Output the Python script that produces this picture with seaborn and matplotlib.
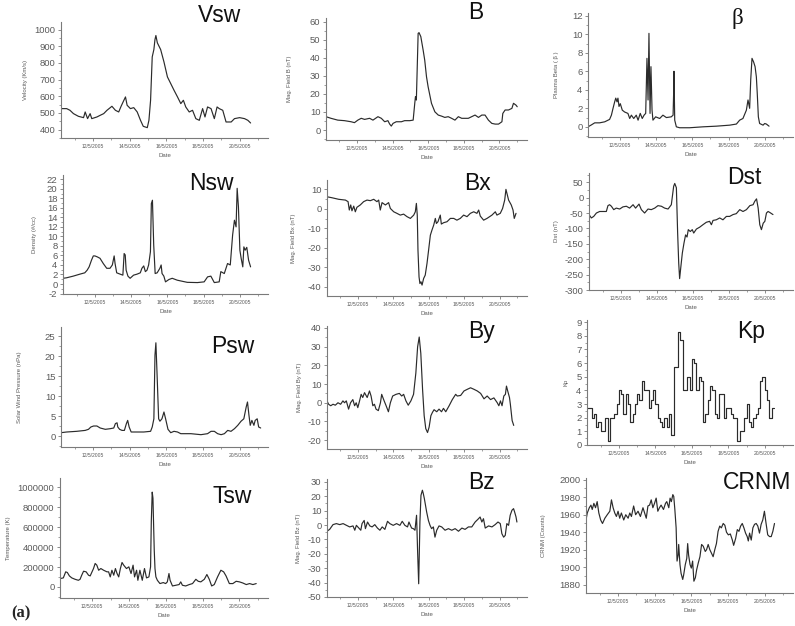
import matplotlib
matplotlib.use("Agg")
import matplotlib.pyplot as plt
from matplotlib.ticker import MultipleLocator, FixedLocator, FixedFormatter, FuncFormatter
import seaborn as sns

# ---------------- data (day of May 2005) ----------------
vsw_day = [10.25, 10.56, 10.74, 10.93, 11.20, 11.48, 11.57, 11.70, 11.84, 11.93, 12.21, 12.39, 12.58, 12.76,
           13.03, 13.22, 13.40, 13.53, 13.64, 13.77, 13.86, 14.04, 14.22, 14.41, 14.59, 14.74, 14.96, 15.05,
           15.14, 15.23, 15.32, 15.38, 15.43, 15.51, 15.69, 15.87, 16.06, 16.24, 16.42, 16.61, 16.79, 16.93,
           17.06, 17.25, 17.43, 17.61, 17.80, 17.98, 18.11, 18.25, 18.44, 18.62, 18.77, 18.89, 19.08, 19.26,
           19.54, 19.72, 20.00, 20.27, 20.45, 20.60]
vsw = [526, 526, 516, 496, 480, 472, 506, 466, 496, 466, 476, 486, 496, 516,
       540, 516, 506, 540, 566, 596, 546, 526, 532, 506, 456, 420, 412, 456,
       576, 836, 880, 940, 964, 920, 880, 806, 716, 676, 636, 596, 556, 576,
       536, 506, 516, 466, 456, 526, 476, 536, 526, 466, 536, 526, 516, 446,
       446, 466, 472, 466, 456, 440]

b_day = [10.25, 10.53, 10.91, 11.29, 11.66, 11.85, 12.04, 12.23, 12.42, 12.70, 12.89, 13.17, 13.36, 13.55,
         13.73, 13.83, 13.92, 14.02, 14.20, 14.49, 14.67, 14.96, 15.15, 15.24, 15.28, 15.33, 15.39, 15.43,
         15.48, 15.58, 15.71, 15.80, 15.90, 15.99, 16.18, 16.37, 16.56, 16.75, 16.93, 17.12, 17.31, 17.50,
         17.69, 17.88, 18.06, 18.25, 18.44, 18.63, 18.82, 19.01, 19.19, 19.38, 19.57, 19.76, 19.95, 20.14,
         20.19, 20.32, 20.51, 20.70, 20.79, 20.93, 21.00]
b_mag = [7.4, 6.5, 5.5, 5.2, 4.6, 4.1, 5.5, 6.5, 5.9, 6.5, 5.5, 7.4, 6.5, 4.6,
         5.2, 3.3, 2.2, 3.7, 4.6, 4.6, 5.2, 5.2, 5.5, 14.8, 18.5, 16.6, 38.7, 53.5,
         53.9, 51.7, 44.3, 38.7, 29.5, 24.0, 14.8, 10.1, 8.3, 7.7, 7.0, 7.4, 6.5, 5.5,
         7.4, 6.5, 6.5, 6.5, 7.4, 8.3, 7.0, 8.3, 8.3, 5.5, 3.7, 3.3, 3.3, 4.6,
         9.2, 11.1, 11.1, 12.0, 14.8, 13.8, 12.9]

beta_day = [10.25, 10.43, 10.62, 10.89, 11.17, 11.44, 11.54, 11.63, 11.72, 11.78, 11.85, 11.90, 11.96, 12.03,
            12.14, 12.27, 12.45, 12.55, 12.64, 12.77, 12.91, 13.01, 13.13, 13.24, 13.34, 13.43, 13.50, 13.56,
            13.61, 13.67, 13.72, 13.78, 13.83, 13.98, 14.20, 14.38, 14.57, 14.84, 14.94, 14.97, 14.99, 15.03,
            15.12, 15.30, 15.85, 16.59, 17.32, 18.06, 18.43, 18.61, 18.79, 18.98, 19.07, 19.16, 19.22, 19.29,
            19.38, 19.46, 19.53, 19.58, 19.64, 19.71, 19.90, 19.99, 20.08, 20.23]
beta = [0.0, 0.2, 0.43, 0.43, 0.54, 0.8, 1.26, 2.0, 2.7, 3.1, 2.7, 3.1, 2.2, 2.5,
        1.8, 1.6, 1.45, 0.9, 1.26, 0.9, 1.26, 0.72, 1.45, 0.9, 1.26, 1.45, 7.4, 2.9,
        10.1, 1.45, 6.5, 1.8, 0.72, 1.08, 0.9, 1.26, 1.0, 1.08, 1.26, 3.6, 6.0, 0.72,
        0.0, -0.1, -0.1, 0.0, 0.07, 0.18, 0.3, 0.72, 0.9, 1.8, 2.9, 2.0, 5.1, 7.4,
        7.0, 6.5, 5.4, 3.6, 1.08, 0.36, 0.18, 0.36, 0.3, 0.07]

nsw_day = [10.25, 10.44, 10.81, 11.18, 11.45, 11.58, 11.69, 11.82, 11.92, 12.01, 12.14, 12.29, 12.47, 12.66,
           12.84, 12.97, 13.07, 13.12, 13.21, 13.40, 13.55, 13.62, 13.68, 13.73, 13.83, 13.95, 14.14, 14.33,
           14.51, 14.60, 14.70, 14.79, 14.88, 14.97, 15.07, 15.12, 15.18, 15.25, 15.33, 15.44, 15.59, 15.66,
           15.71, 15.81, 15.90, 16.09, 16.27, 16.55, 17.10, 17.66, 18.03, 18.22, 18.40, 18.59, 18.86, 18.95,
           19.14, 19.32, 19.47, 19.60, 19.70, 19.79, 19.85, 19.92, 20.00, 20.07, 20.16, 20.22, 20.29, 20.38,
           20.48, 20.59]
nsw = [1.2, 1.3, 1.65, 2.07, 2.35, 2.9, 3.6, 5.0, 5.9, 5.9, 5.7, 5.4, 4.3, 3.3,
       3.3, 4.0, 5.9, 4.3, 2.35, 2.07, 1.86, 6.4, 6.1, 2.9, 1.65, 1.2, 1.86, 2.07,
       2.35, 3.3, 3.8, 2.6, 2.9, 4.0, 6.8, 16.9, 17.6, 8.2, 2.2, 2.35, 3.3, 4.0,
       2.2, 1.65, 0.45, 0.95, 1.2, 0.8, 0.35, 0.3, 0.45, 1.5, 1.65, 0.3, 0.45, 2.6,
       2.2, 4.3, 4.0, 10.3, 13.4, 12.0, 20.1, 16.2, 7.1, 5.4, 3.6, 7.8, 7.1, 7.7,
       5.0, 3.6]

bx_day = [10.25, 10.53, 10.91, 11.29, 11.44, 11.51, 11.59, 11.66, 11.76, 11.85, 11.94, 12.13, 12.32, 12.51,
          12.70, 12.89, 13.07, 13.17, 13.26, 13.36, 13.55, 13.73, 13.83, 14.02, 14.20, 14.39, 14.58, 14.77,
          14.96, 15.15, 15.24, 15.30, 15.35, 15.39, 15.45, 15.50, 15.56, 15.62, 15.71, 15.80, 15.90, 15.99,
          16.09, 16.18, 16.28, 16.37, 16.43, 16.52, 16.65, 16.71, 16.84, 17.03, 17.22, 17.41, 17.59, 17.78,
          17.97, 18.16, 18.35, 18.54, 18.72, 18.82, 18.91, 19.10, 19.29, 19.57, 19.76, 19.85, 20.04, 20.17,
          20.29, 20.36, 20.44, 20.51, 20.66, 20.76, 20.83, 20.93]
bx = [6.2, 5.7, 4.9, 4.5, 3.7, -0.6, 2.0, -1.0, 1.4, -1.5, 0.8, 2.0, 3.7, 4.5,
      4.2, 4.9, 3.7, 4.5, -0.6, 3.2, 2.0, 3.2, 0.2, -1.5, -2.3, -3.2, -2.7, -4.0,
      -4.9, -3.2, -1.5, 2.8, -3.2, -21.2, -34.9, -38.3, -37.4, -39.1, -35.7, -34.0, -28.0, -21.2,
      -13.5, -10.9, -8.3, -4.9, -7.5, -6.6, -3.2, -7.8, -7.1, -6.6, -4.9, -4.9, -5.8, -4.9,
      -3.2, -4.0, -2.3, -1.5, -2.3, -0.6, -3.7, -5.8, -4.9, -3.2, -1.5, -3.2, -2.3, 0.2,
      4.5, 10.0, 7.1, 4.5, 2.0, -0.6, -4.9, -2.3]

dst_day = [10.25, 10.38, 10.51, 10.66, 10.84, 11.03, 11.21, 11.30, 11.39, 11.49, 11.62, 11.76, 11.95, 12.13,
           12.32, 12.50, 12.69, 12.83, 13.02, 13.15, 13.33, 13.52, 13.70, 13.89, 14.07, 14.26, 14.44, 14.63,
           14.81, 14.94, 15.00, 15.09, 15.16, 15.22, 15.27, 15.33, 15.42, 15.51, 15.60, 15.68, 15.75, 15.86,
           15.97, 16.05, 16.20, 16.38, 16.56, 16.75, 16.93, 17.03, 17.12, 17.30, 17.49, 17.67, 17.86, 18.04,
           18.23, 18.41, 18.60, 18.78, 18.97, 19.16, 19.34, 19.43, 19.53, 19.62, 19.71, 19.80, 19.90, 19.99,
           20.08, 20.17, 20.26, 20.44]
dst = [-55, -66, -61, -50, -45, -45, -45, -26, -23, -28, -39, -34, -37, -30,
       -28, -34, -23, -34, -21, -39, -50, -37, -39, -34, -26, -28, -34, -37,
       -23, 37, 46, 32, -115, -213, -263, -229, -180, -148, -121, -128, -104, -110,
       -104, -115, -102, -96, -88, -80, -77, -88, -74, -72, -66, -72, -61, -61,
       -55, -52, -39, -45, -39, -26, -23, -12, -4, -34, -88, -104, -83, -77,
       -50, -45, -48, -55]

psw_day = [10.25, 10.56, 11.11, 11.57, 11.75, 11.88, 12.03, 12.21, 12.39, 12.67, 12.94, 13.13, 13.22, 13.31,
           13.35, 13.45, 13.58, 13.71, 13.82, 13.89, 13.97, 14.08, 14.41, 14.77, 15.14, 15.23, 15.32, 15.38,
           15.43, 15.49, 15.58, 15.65, 15.76, 15.87, 15.96, 16.09, 16.24, 16.42, 16.61, 16.79, 17.34, 17.89,
           18.25, 18.44, 18.62, 18.80, 18.99, 19.17, 19.35, 19.53, 19.72, 19.90, 20.08, 20.23, 20.36, 20.43,
           20.51, 20.58, 20.67, 20.78, 20.85, 20.96, 21.04, 21.15]
psw = [0.83, 1.0, 1.17, 1.4, 1.67, 2.25, 2.5, 2.5, 2.0, 1.67, 1.83, 2.0, 3.1, 3.3,
       2.25, 1.67, 1.4, 1.4, 3.1, 3.9, 2.25, 1.0, 1.0, 1.0, 1.17, 2.25, 4.3, 20.2,
       23.3, 16.0, 4.3, 3.7, 4.3, 6.0, 4.3, 1.67, 0.83, 1.17, 1.0, 0.58, 0.58, 0.33,
       0.58, 1.17, 1.17, 0.58, 0.33, 0.58, 1.4, 1.17, 1.83, 2.67, 3.7, 4.3, 7.25, 8.5,
       5.2, 2.67, 3.9, 2.67, 3.9, 4.3, 2.25, 2.0]

by_day = [10.25, 10.34, 10.46, 10.59, 10.72, 10.87, 11.02, 11.15, 11.24, 11.34, 11.47, 11.58, 11.71, 11.81,
          11.90, 11.99, 12.09, 12.18, 12.27, 12.37, 12.52, 12.65, 12.74, 12.84, 12.93, 13.02, 13.15, 13.27,
          13.34, 13.45, 13.59, 13.72, 13.83, 13.96, 14.15, 14.34, 14.47, 14.58, 14.71, 14.84, 14.99, 15.14,
          15.27, 15.37, 15.46, 15.55, 15.65, 15.74, 15.83, 15.93, 16.02, 16.12, 16.21, 16.30, 16.45, 16.58,
          16.72, 16.83, 16.96, 17.15, 17.33, 17.52, 17.61, 17.80, 17.99, 18.18, 18.36, 18.55, 18.74, 18.93,
          19.12, 19.30, 19.49, 19.68, 19.87, 19.96, 20.05, 20.14, 20.24, 20.33, 20.39, 20.46, 20.56, 20.61,
          20.71, 20.80]
by = [1.0, -0.8, -1.6, -0.8, -1.3, 0.0, -0.8, 1.0, 0.0, 1.0, -3.4, 0.0, 1.7, -1.6,
      0.0, -2.6, 1.0, 4.5, 2.8, 5.4, 2.8, 6.3, 3.6, -1.6, -0.8, -3.4, -4.2, 0.0,
      4.5, 1.7, -1.6, -4.8, 0.0, 3.6, 4.5, 5.0, 3.6, 4.5, 1.0, -1.3, 1.0, 4.5,
      15.9, 29.9, 35.1, 26.4, 7.1, -6.9, -13.8, -15.9, -13.0, -6.9, -5.1, -3.7, -4.8, -3.4,
      -4.8, -3.0, -4.8, -1.6, 1.7, 4.5, 3.6, 3.9, 6.3, 7.2, 8.0, 7.2, 6.3, 5.0,
      2.1, 3.6, 1.7, 2.6, 0.0, -1.6, 1.0, -1.6, 3.6, 4.5, 8.9, 6.3, 2.8, -0.8,
      -9.5, -12.1]

# three-hourly Kp index starting 10 May 06 UT
kp_start = 10.25
kp_step = 0.125
kp = [2.7, 2.7, 2.0, 2.3, 1.3, 1.7, 1.0, 1.0, 2.0, 0.3, 2.0, 2.0, 2.3, 3.0, 4.0, 3.7, 2.3, 3.7, 3.0, 1.7,
      2.3, 3.0, 3.7, 3.3, 4.7, 4.0, 4.0, 2.7, 3.3, 4.0, 3.0, 2.0, 1.7, 1.3, 2.0, 1.3, 2.3, 0.7,
      5.7, 5.7, 8.3, 7.7, 4.0, 4.0, 5.0, 4.0, 6.3, 6.0, 4.0, 5.0, 4.7, 1.7, 2.3, 3.3, 4.3, 4.0,
      2.3, 2.0, 3.7, 3.7, 2.0, 2.7, 2.7, 2.3, 2.0, 2.0, 0.3, 1.0, 1.0, 2.0, 3.0, 1.7, 1.3, 2.0,
      2.3, 2.7, 4.7, 5.0, 4.0, 3.3, 2.0, 2.7]

tsw_day = [10.25, 10.43, 10.56, 10.65, 10.76, 10.89, 11.07, 11.25, 11.34, 11.43, 11.53, 11.67, 11.80, 11.89,
           12.07, 12.16, 12.25, 12.35, 12.47, 12.62, 12.80, 12.89, 12.98, 13.07, 13.17, 13.26, 13.35, 13.44,
           13.53, 13.62, 13.71, 13.86, 13.99, 14.11, 14.22, 14.30, 14.41, 14.48, 14.59, 14.72, 14.84, 14.95,
           15.08, 15.17, 15.21, 15.26, 15.30, 15.34, 15.37, 15.41, 15.46, 15.54, 15.68, 15.86, 15.99, 16.08,
           16.17, 16.23, 16.36, 16.54, 16.72, 16.81, 16.90, 17.08, 17.27, 17.45, 17.63, 17.76, 17.90, 18.09,
           18.23, 18.36, 18.49, 18.63, 18.81, 18.99, 19.14, 19.27, 19.45, 19.64, 19.82, 20.00, 20.18, 20.37,
           20.55, 20.73, 20.91]
tsw = [84000, 91000, 152000, 145000, 111000, 91000, 77000, 67000, 77000, 118000, 158000, 152000, 118000, 111000,
       185000, 236000, 219000, 168000, 185000, 168000, 152000, 152000, 101000, 168000, 118000, 185000, 135000, 101000,
       185000, 246000, 219000, 185000, 202000, 135000, 219000, 101000, 168000, 67000, 168000, 67000, 185000, 91000,
       101000, 202000, 657000, 953000, 892000, 589000, 370000, 185000, 101000, 67000, 34000, 44000, 34000, 51000,
       135000, 67000, 10000, 17000, 24000, 51000, 17000, 10000, 24000, 34000, 77000, 57000, 51000, 77000,
       125000, 77000, 10000, 24000, 101000, 168000, 152000, 111000, 34000, 34000, 57000, 51000, 40000, 24000,
       34000, 24000, 34000]

bz_day = [10.25, 10.40, 10.59, 10.78, 10.97, 11.16, 11.35, 11.53, 11.72, 11.82, 11.91, 12.05, 12.16, 12.23,
          12.35, 12.42, 12.54, 12.67, 12.80, 12.95, 13.10, 13.24, 13.37, 13.52, 13.67, 13.80, 13.99, 14.18,
          14.37, 14.50, 14.65, 14.80, 14.88, 15.03, 15.13, 15.22, 15.31, 15.37, 15.43, 15.47, 15.50, 15.56,
          15.64, 15.69, 15.75, 15.88, 15.98, 16.07, 16.16, 16.26, 16.35, 16.45, 16.58, 16.73, 16.92, 17.11,
          17.30, 17.49, 17.68, 17.87, 18.05, 18.24, 18.43, 18.62, 18.81, 18.90, 19.00, 19.09, 19.19, 19.38,
          19.57, 19.75, 19.91, 20.04, 20.13, 20.23, 20.32, 20.41, 20.51, 20.60, 20.70, 20.79, 20.85, 20.93,
          20.98]
bz = [-4.3, -3.0, 0.3, 1.0, 0.3, 1.0, -0.2, -1.3, -0.6, -3.6, -0.2, -2.1, -3.6, 1.0,
      3.2, -2.5, 2.1, -0.6, -1.3, 0.3, -2.1, -3.6, -1.3, -3.0, 2.6, 1.0, -0.2, 1.0,
      -0.2, 2.6, -0.2, -1.3, 2.1, -2.1, -2.5, -3.6, 6.8, -18.7, -40.8, -16.4, 2.1, 20.7,
      24.2, 21.9, 18.4, 9.1, 3.2, -0.2, -2.5, -1.3, -8.4, -3.6, -0.6, -1.3, -3.6, -2.5,
      -3.6, -2.5, -4.3, -2.1, -3.0, -1.3, -1.3, 2.1, 4.4, 5.6, 2.1, 4.4, -2.1, -0.6,
      -1.3, 0.3, 2.1, 1.0, -6.0, -8.4, -7.2, 1.0, -0.2, 6.8, 10.3, 11.4, 9.1, 5.6,
      2.1]

crnm_day = [10.25, 10.32, 10.43, 10.52, 10.59, 10.68, 10.77, 10.86, 10.95, 11.05, 11.15, 11.28, 11.41, 11.55,
            11.64, 11.73, 11.82, 11.91, 12.00, 12.09, 12.18, 12.31, 12.42, 12.55, 12.64, 12.73, 12.85, 12.96,
            13.09, 13.22, 13.36, 13.45, 13.54, 13.63, 13.72, 13.81, 13.90, 13.99, 14.08, 14.17, 14.26, 14.35,
            14.48, 14.59, 14.66, 14.77, 14.84, 14.91, 14.99, 15.04, 15.10, 15.17, 15.22, 15.28, 15.31, 15.38,
            15.44, 15.53, 15.58, 15.67, 15.75, 15.80, 15.85, 15.93, 16.00, 16.07, 16.14, 16.22, 16.29, 16.38,
            16.47, 16.56, 16.65, 16.76, 16.83, 16.92, 17.01, 17.10, 17.19, 17.28, 17.37, 17.46, 17.55, 17.64,
            17.74, 17.83, 17.92, 18.02, 18.13, 18.24, 18.31, 18.42, 18.51, 18.60, 18.69, 18.78, 18.87, 18.96,
            19.05, 19.11, 19.18, 19.27, 19.36, 19.45, 19.54, 19.63, 19.72, 19.81, 19.90, 19.99, 20.08, 20.17,
            20.27, 20.36, 20.45, 20.54]
crnm = [1954, 1962, 1968, 1971, 1966, 1973, 1968, 1975, 1962, 1954, 1950, 1956, 1960, 1964,
        1977, 1968, 1962, 1958, 1964, 1956, 1962, 1954, 1960, 1956, 1962, 1958, 1970, 1960,
        1964, 1958, 1968, 1962, 1956, 1970, 1971, 1977, 1968, 1973, 1979, 1964, 1968, 1971,
        1966, 1973, 1975, 1968, 1979, 1975, 1983, 1981, 1966, 1945, 1907, 1914, 1926, 1903,
        1893, 1886, 1891, 1903, 1910, 1927, 1914, 1903, 1899, 1907, 1884, 1888, 1897, 1905,
        1912, 1926, 1924, 1918, 1920, 1926, 1920, 1916, 1912, 1920, 1927, 1941, 1947, 1945,
        1950, 1948, 1940, 1937, 1938, 1931, 1925, 1933, 1943, 1941, 1947, 1950, 1945, 1939,
        1935, 1930, 1939, 1931, 1945, 1949, 1950, 1947, 1939, 1949, 1954, 1964, 1950, 1937,
        1935, 1935, 1941, 1950]

date_ticks = [12, 14, 16, 18, 20]
date_labels = ["12/5/2005", "14/5/2005", "16/5/2005", "18/5/2005", "20/5/2005"]

# ---------------- figure ----------------
sns.set_style("ticks")
plt.rcParams["font.family"] = ["Liberation Sans", "DejaVu Sans"]

W, H = 795, 626
fig = plt.figure(figsize=(W / 100, H / 100), dpi=100)
fig.patch.set_facecolor("white")

LINE = "#2b2b2b"
AXC = "#7a7a7a"
TXT = "#5a5a5a"


def px_box(l, t, r, b):
    return [l / W, 1 - b / H, (r - l) / W, (b - t) / H]


kp_day = [kp_start + kp_step * i for i in range(len(kp) + 1)]
kp_ext = kp + [kp[-1]]

plain = FuncFormatter(lambda v, p: f"{v:g}" if abs(v) < 1e5 else f"{int(round(v))}")

panels = [
    # x, y, axes box, ylim, major ticks, minor step, ylabel, label x, title, title anchor
    (vsw_day, vsw, (61, 22, 268, 138), (350, 1045), range(400, 1001, 100), 50,
     "Velocity (Km/s)", -0.16, "Vsw", (220, 22)),
    (b_day, b_mag, (326, 18, 527, 140), (-5.5, 62), range(0, 61, 10), 5,
     "Mag. Field B (nT)", -0.17, "B", (476, 19)),
    (beta_day, beta, (588, 13, 793, 137), (-1.1, 12.3), range(0, 13, 2), 1,
     "Plasma Beta ( \u03b2 )", -0.14, "\u03b2", (737, 24)),
    (nsw_day, nsw, (63, 175, 268, 294), (-2.1, 22.9), range(-2, 23, 2), 1,
     "Density (#/cc)", -0.127, "Nsw", (211, 190)),
    (bx_day, bx, (327, 180, 527, 296), (-44.7, 14.8), range(-40, 11, 10), 5,
     "Mag. Field Bx (nT)", -0.155, "Bx", (478, 190)),
    (dst_day, dst, (589, 173, 793, 290), (-300, 80), range(-300, 51, 50), 25,
     "Dst (nT)", -0.147, "Dst", (744, 184)),
    (psw_day, psw, (61, 327, 268, 447), (-2.75, 27.25), range(0, 26, 5), 2.5,
     "Solar Wind Pressure (nPa)", -0.19, "Psw", (233, 353)),
    (by_day, by, (327, 326, 527, 449), (-24.7, 41), range(-20, 41, 10), 5,
     "Mag. Field By (nT)", -0.125, "By", (481, 338)),
    (kp_day, kp_ext, (587, 320, 793, 445), (0, 9.15), range(0, 10, 1), 0.5,
     "Kp", -0.092, "Kp", (751, 338)),
    (tsw_day, tsw, (60, 478, 268, 598), (-111000, 1095000), range(0, 1000001, 200000), 100000,
     "Temperature (K)", -0.235, "Tsw", (232, 503)),
    (bz_day, bz, (327, 479, 527, 597), (-50, 32), range(-50, 31, 10), 5,
     "Mag. Field Bz (nT)", -0.13, "Bz", (481, 489)),
    (crnm_day, crnm, (586, 478, 793, 593), (1870.5, 2002), range(1880, 2001, 20), 10,
     "CRNM (Counts)", -0.193, "CRNM", (757, 489)),
]

for x, y, bx_px, ylim, major, minor, ylab, labx, title, tpos in panels:
    ax = fig.add_axes(px_box(*bx_px))
    kw = dict(drawstyle="steps-post") if title == "Kp" else {}
    sns.lineplot(x=x, y=y, ax=ax, color=LINE, linewidth=0.85,
                 estimator=None, sort=False, **kw)
    ax.set_xlim(10.25, 21.55)
    ax.set_ylim(*ylim)
    sns.despine(ax=ax)
    for side in ("left", "bottom"):
        ax.spines[side].set_color(AXC)
        ax.spines[side].set_linewidth(0.8)

    ax.xaxis.set_major_locator(FixedLocator(date_ticks))
    ax.xaxis.set_major_formatter(FixedFormatter(date_labels))
    ax.xaxis.set_minor_locator(MultipleLocator(1))
    ax.yaxis.set_major_locator(FixedLocator(list(major)))
    ax.yaxis.set_major_formatter(plain)
    ax.yaxis.set_minor_locator(MultipleLocator(minor))
    ax.tick_params(axis="x", which="major", length=2.5, width=0.6, color=AXC,
                   labelsize=3.6, labelcolor=TXT, pad=2)
    ax.tick_params(axis="y", which="major", length=2.5, width=0.6, color=AXC,
                   labelsize=6.8, labelcolor=TXT, pad=1.5)
    ax.tick_params(which="minor", length=1.5, width=0.5, color=AXC)
    ax.set_ylabel(ylab, fontsize=4.3, color=TXT)
    ax.yaxis.set_label_coords(labx, 0.5)
    ax.set_xlabel("Date", fontsize=4.3, color=TXT, labelpad=3)
    ax.patch.set_alpha(0)

    fam = ["Liberation Serif", "DejaVu Serif"] if title == "\u03b2" else ["Liberation Sans", "DejaVu Sans"]
    fig.text(tpos[0] / W, 1 - tpos[1] / H, title, fontsize=16.5, color="#111111",
             ha="center", va="baseline", family=fam)

fig.text(21 / W, 1 - 617 / H, "(a)", fontsize=12, fontweight="bold",
         ha="center", va="baseline", family=["Liberation Serif", "DejaVu Serif"])

fig.savefig("out.png", dpi=100, facecolor="white")
